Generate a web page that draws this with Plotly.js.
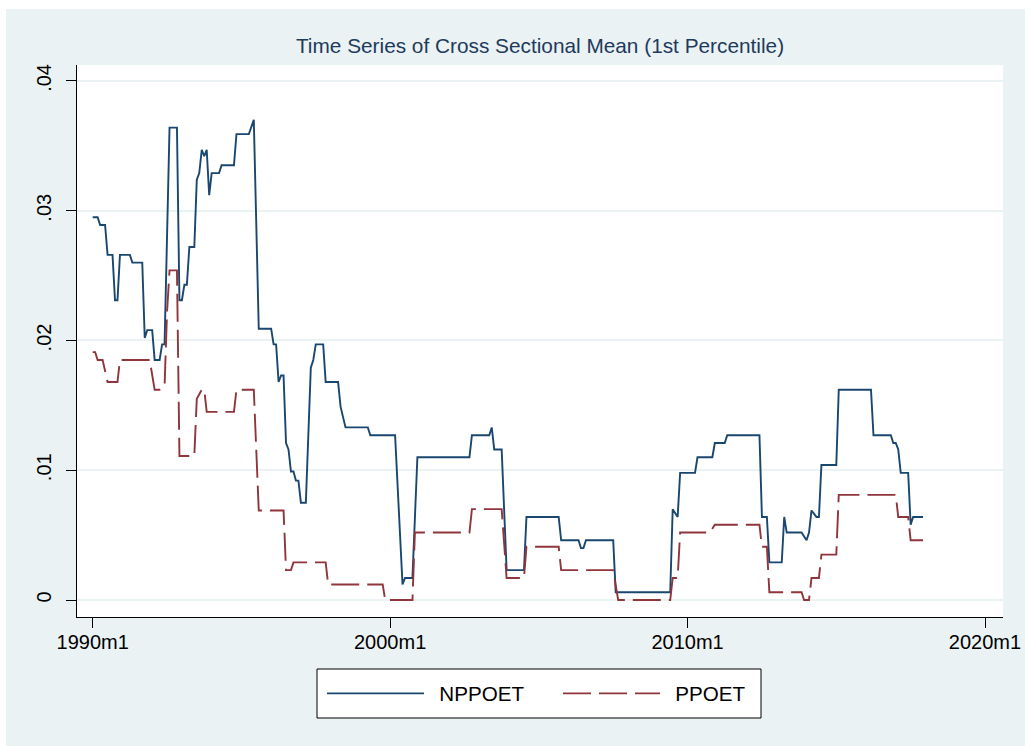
<!DOCTYPE html>
<html><head><meta charset="utf-8">
<script src="https://cdn.plot.ly/plotly-3.0.1.min.js"></script>
<style>
html,body{margin:0;padding:0;background:#ffffff;}
#chart{position:absolute;left:6px;top:9px;width:1019px;height:737px;}
</style></head><body><div id="chart"></div>
<script>
// NPPOET vertices (Stata monthly dates) and values
const npDates = ["1990m1","1990m3","1990m4","1990m6","1990m7","1990m9","1990m10","1990m11","1990m12","1991m4","1991m5","1991m9","1991m10","1991m11","1992m1","1992m2","1992m4","1992m5","1992m6","1992m8","1992m11","1992m12","1993m1","1993m2","1993m3","1993m4","1993m6","1993m7","1993m8","1993m9","1993m10","1993m11","1993m12","1994m1","1994m4","1994m5","1994m10","1994m11","1995m4","1995m6","1995m8","1996m1","1996m2","1996m3","1996m4","1996m5","1996m6","1996m7","1996m8","1996m9","1996m10","1996m11","1996m12","1997m1","1997m3","1997m5","1997m6","1997m7","1997m10","1997m11","1998m4","1998m5","1998m7","1999m4","1999m5","2000m3","2000m6","2000m7","2000m10","2000m12","2002m9","2002m10","2003m5","2003m6","2003m7","2003m10","2003m12","2004m7","2004m8","2005m9","2005m10","2006m5","2006m6","2006m7","2006m8","2007m7","2007m8","2009m6","2009m7","2009m9","2009m10","2010m4","2010m5","2010m11","2010m12","2011m4","2011m5","2012m6","2012m7","2012m9","2012m10","2013m3","2013m4","2013m5","2013m11","2014m1","2014m2","2014m3","2014m5","2014m6","2014m7","2015m1","2015m2","2016m3","2016m4","2016m11","2016m12","2017m1","2017m2","2017m3","2017m6","2017m7","2017m8","2017m12"];
const npValues = [0.0295,0.0295,0.0289,0.0289,0.0266,0.0266,0.0231,0.0231,0.0266,0.0266,0.0260,0.0260,0.0202,0.0208,0.0208,0.0185,0.0185,0.0197,0.0197,0.0364,0.0364,0.0231,0.0231,0.0243,0.0243,0.0272,0.0272,0.0324,0.0329,0.0347,0.0342,0.0347,0.0312,0.0329,0.0329,0.0335,0.0335,0.0359,0.0359,0.0370,0.0209,0.0209,0.0197,0.0197,0.0168,0.0173,0.0173,0.0121,0.0116,0.0099,0.0099,0.0092,0.0092,0.0075,0.0075,0.0179,0.0185,0.0197,0.0197,0.0168,0.0168,0.0149,0.0133,0.0133,0.0127,0.0127,0.0012,0.0017,0.0017,0.0110,0.0110,0.0127,0.0127,0.0133,0.0116,0.0116,0.0023,0.0023,0.0064,0.0064,0.0046,0.0046,0.0040,0.0040,0.0046,0.0046,0.0006,0.0006,0.0070,0.0064,0.0098,0.0098,0.0110,0.0110,0.0121,0.0121,0.0127,0.0127,0.0064,0.0064,0.0029,0.0029,0.0064,0.0052,0.0052,0.0046,0.0052,0.0069,0.0064,0.0064,0.0104,0.0104,0.0162,0.0162,0.0127,0.0127,0.0121,0.0121,0.0116,0.0098,0.0098,0.0058,0.0064,0.0064];

// PPOET vertices and values
const pDates = ["1990m1","1990m2","1990m3","1990m5","1990m7","1990m11","1990m12","1991m12","1992m2","1992m4","1992m6","1992m7","1992m8","1992m11","1992m12","1993m6","1993m7","1993m9","1993m10","1993m11","1994m10","1994m11","1995m6","1995m8","1996m6","1996m7","1996m9","1996m10","1997m11","1997m12","1999m10","1999m11","2000m10","2000m11","2002m9","2002m10","2003m10","2003m12","2004m7","2004m8","2005m9","2005m10","2007m7","2007m9","2009m6","2009m7","2009m9","2009m10","2010m10","2010m12","2012m6","2012m7","2012m9","2012m10","2013m11","2013m12","2014m2","2014m3","2014m6","2014m7","2015m1","2015m2","2017m1","2017m2","2017m6","2017m7","2017m12"];
const pValues = [0.0191,0.0191,0.0185,0.0185,0.0168,0.0168,0.0185,0.0185,0.0162,0.0162,0.0165,0.0222,0.0254,0.0254,0.0111,0.0111,0.0155,0.0162,0.0162,0.0145,0.0145,0.0162,0.0162,0.0069,0.0069,0.0023,0.0023,0.0029,0.0029,0.0012,0.0012,0,0,0.0052,0.0052,0.0070,0.0070,0.0017,0.0017,0.0041,0.0041,0.0023,0.0023,0,0,0.0017,0.0017,0.0052,0.0052,0.0058,0.0058,0.0041,0.0041,0.0006,0.0006,0,0,0.0017,0.0017,0.0035,0.0035,0.0081,0.0081,0.0064,0.0064,0.0046,0.0046];

const seriesNames = ["NPPOET","PPOET"];
const xTickLabels = ["1990m1","2000m1","2010m1","2020m1"];
const yTickVals = [0,0.01,0.02,0.03,0.04];
const yTickText = ["0",".01",".02",".03",".04"];

function monthIndex(s){const p=s.split('m');return (Number(p[0])-1990)*12+(Number(p[1])-1);}

const FONT = '"Liberation Sans", Arial, Helvetica, sans-serif';
const GAP = '\u2002';

const traces = [
  {x: npDates.map(monthIndex), y: npValues, text: npDates, name: GAP + seriesNames[0], type:'scatter', mode:'lines',
   line:{color:'#1a476f', width:1.9}, hovertemplate:'%{text}: %{y}<extra></extra>'},
  {x: pDates.map(monthIndex), y: pValues, text: pDates, name: GAP + seriesNames[1], type:'scatter', mode:'lines',
   line:{color:'#90353b', width:1.9, dash:'28px,8px'}, hovertemplate:'%{text}: %{y}<extra></extra>'}
];

const layout = {
  width:1019, height:737, autosize:false,
  paper_bgcolor:'#eaf2f3', plot_bgcolor:'#ffffff',
  margin:{l:71, r:22, t:56, b:129, pad:0},
  font:{family:FONT, size:20, color:'#000000'},
  title:{text:'Time Series of Cross Sectional Mean (1st Percentile)', font:{family:FONT, size:20.8, color:'#1e3a5c'},
         x:0.5, xref:'paper', xanchor:'center', y:1-37/737, yref:'container', yanchor:'middle'},
  xaxis:{range:[-6.33, 367.26], tickvals:xTickLabels.map(monthIndex), ticktext:xTickLabels,
         ticks:'outside', ticklen:10, tickwidth:1, tickcolor:'#000', showline:true, linecolor:'#000', linewidth:1,
         showgrid:false, zeroline:false, ticklabelstandoff:-3, tickfont:{family:FONT, size:20, color:'#000'}},
  yaxis:{range:[-0.00131, 0.04123], tickvals:yTickVals, ticktext:yTickText, tickangle:-90,
         ticks:'outside', ticklen:10, tickwidth:1, tickcolor:'#000', showline:true, linecolor:'#000', linewidth:1,
         showgrid:true, gridcolor:'#eaf2f3', gridwidth:2, zeroline:false, ticklabelstandoff:7,
         tickfont:{family:FONT, size:20, color:'#000'}},
  shapes:[{type:'rect', xref:'paper', yref:'paper', layer:'above',
           x0:(311-71)/926, x1:(755-71)/926, y0:(608-709)/552, y1:(608-660)/552,
           fillcolor:'#ffffff', line:{color:'#000000', width:1}}],
  showlegend:true,
  legend:{orientation:'h', x:(316-71)/926, xanchor:'left', y:(608-684.5)/552, yanchor:'middle',
          bgcolor:'rgba(0,0,0,0)', borderwidth:0, font:{family:FONT, size:20.6, color:'#000'},
          itemwidth:97, entrywidth:124, entrywidthmode:'pixels', traceorder:'normal'}
};

Plotly.newPlot('chart', traces, layout, {displayModeBar:false, staticPlot:true});
</script></body></html>
